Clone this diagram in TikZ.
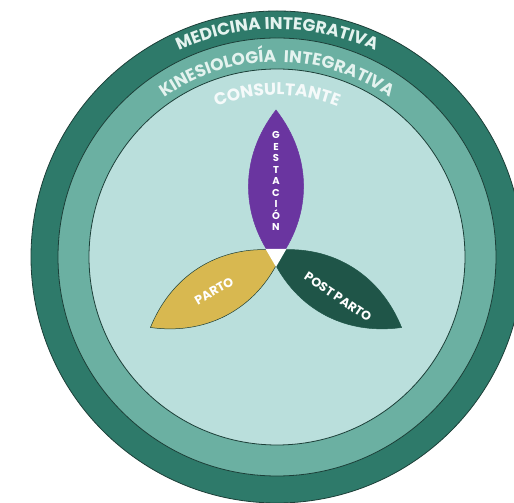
\documentclass[tikz,border=0pt]{standalone}
\usepackage{fontspec}
\setmainfont{Poppins}
\usetikzlibrary{decorations.text}
\definecolor{ringouter}{HTML}{2E7A6A}
\definecolor{ringmid}{HTML}{6BB0A2}
\definecolor{ringin}{HTML}{BADFDC}
\definecolor{edgeline}{HTML}{1C3F38}
\definecolor{gestcol}{HTML}{6A35A0}
\definecolor{partocol}{HTML}{D8B850}
\definecolor{postcol}{HTML}{1F5548}
\definecolor{ringtext}{HTML}{E4F3EF}
\begin{document}
\begin{tikzpicture}[x=1pt,y=1pt,
    ring/.style={draw=edgeline, line width=0.8pt},
    lenstext/.style={text=white, font=\bfseries\fontsize{12.5}{12.5}\selectfont},
    arctext/.style={decorate, decoration={text along path, text align=center, text={#1}}}]
  \useasboundingbox (0,0) rectangle (514,503);
  \clip (0,0) rectangle (514,503);
  \fill[white] (0,0) rectangle (514,503);
  \coordinate (mid) at (277,246);
  \coordinate (hub) at (276,248);
  % rings
  \draw[ring, fill=ringouter] (mid) circle (246);
  \draw[ring, fill=ringmid] (mid) circle (219);
  \draw[ring, fill=ringin] (mid) circle (188);
  % ring labels
  \path[arctext={|\fontsize{17}{17}\bfseries\color{ringtext}|MEDICINA INTEGRATIVA}]
    ([shift={(135:228)}]mid) arc[start angle=135, end angle=45, radius=228];
  \path[arctext={|\fontsize{17}{17}\bfseries\color{ringtext}|KINESIOLOGÍA {\ }INTEGRATIVA}]
    ([shift={(140:195)}]mid) arc[start angle=140, end angle=40, radius=195];
  \path[arctext={|\fontsize{17}{17}\bfseries\color{white!85!ringin}|CONSULTANTE}]
    ([shift={(135:162)}]mid) arc[start angle=135, end angle=45, radius=162];
  % petals
  \foreach \ang/\col/\edge in {90/gestcol/gestcol, 210/partocol/edgeline, 330/postcol/postcol}
    \draw[line width=0.5pt, draw=\edge, fill=\col]
      ([shift={(\ang+180:8)}]hub) to[bend left=38] ([shift={(\ang:145)}]hub)
      to[bend left=38] ([shift={(\ang+180:8)}]hub) -- cycle;
  \fill[white] ([shift={(150:12)}]hub) -- ([shift={(30:12)}]hub) -- ([shift={(270:12)}]hub) -- cycle;
  % petal labels
  \node[lenstext, font=\bfseries\fontsize{10}{11.5}\selectfont, align=center] (gest) at (276,322)
    {G\\E\\S\\T\\A\\C\\I\\Ó\\N};
  \node[lenstext, rotate=30] (parto) at (214,212) {PARTO};
  \node[lenstext, rotate=-34] (post) at (338,206) {POST PARTO};
\end{tikzpicture}
\end{document}
